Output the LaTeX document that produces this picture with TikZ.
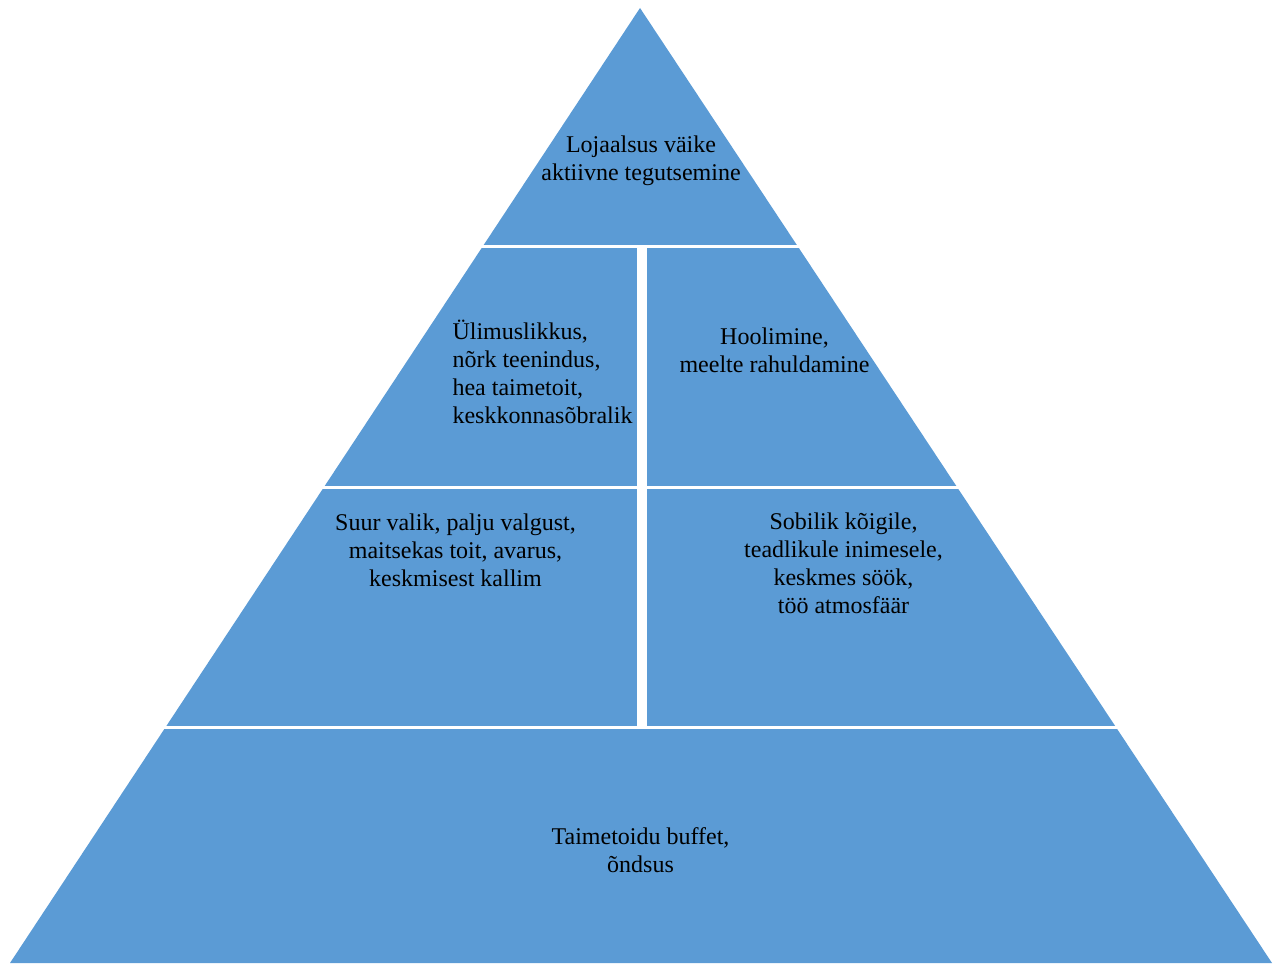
\documentclass[tikz,border=0pt]{standalone}
\usepackage{fontspec}
\setmainfont{Liberation Serif}
\usepackage{tikz}
\definecolor{pyrblue}{HTML}{5B9BD5}

\begin{document}
\begin{tikzpicture}[
                x=0.5pt,y=-0.5pt,
                every node/.append style={align=center,inner sep=0pt,font=\fontsize{12}{14}\selectfont},
                gap/.style={draw=white,line width=1.5pt}
            ]
                \useasboundingbox (0,0) rectangle (1283,963);
                \coordinate (T) at (640,8);
                \coordinate (L) at (10,963);
                \coordinate (R) at (1272,963);
                \fill[pyrblue] (T) -- (L) -- (R) -- cycle;
                \draw[gap] (0,246) -- (1283,246);
                \draw[gap] (0,487) -- (1283,487);
                \draw[gap] (0,727.5) -- (1283,727.5);
                \draw[gap,line width=5pt] (642,246) -- (642,727.5);
                \node (A) at (641,161) {Lojaalsus väike\\aktiivne tegutsemine};
                \node[align=left] (B) at (542.5,372) {Ülimuslikkus,\\nõrk teenindus,\\hea taimetoit,\\keskkonnasõbralik};
                \node (C) at (774.5,350) {Hoolimine,\\meelte rahuldamine};
                \node (D) at (455.5,550) {Suur valik, palju valgust,\\maitsekas toit, avarus,\\keskmisest kallim};
                \node (E) at (843.5,563) {Sobilik kõigile,\\teadlikule inimesele,\\keskmes söök,\\töö atmosfäär};
                \node (F) at (640.5,850) {Taimetoidu buffet,\\õndsus};
            \end{tikzpicture}
\end{document}
